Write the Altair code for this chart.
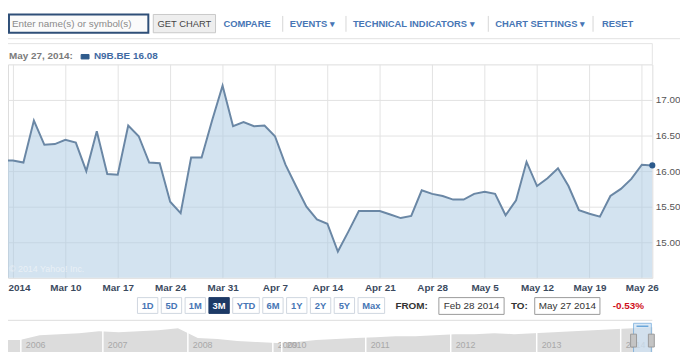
import altair as alt
import pandas as pd

# ---------------- data ----------------
# N9B.BE daily close, Feb 28 2014 .. May 27 2014 (trading-day order)
prices = [16.15, 16.15, 16.12, 16.71, 16.37, 16.38, 16.44, 16.40, 16.00, 16.56,
          15.96, 15.95, 16.64, 16.49, 16.12, 16.11, 15.57, 15.41, 16.19, 16.19,
          16.71, 17.20, 16.63, 16.69, 16.63, 16.64, 16.49, 16.09, 15.79, 15.50,
          15.32, 15.26, 14.87, 15.15, 15.44, 15.44, 15.44, 15.39, 15.34, 15.37,
          15.73, 15.68, 15.65, 15.60, 15.60, 15.68, 15.71, 15.68, 15.38, 15.59,
          16.13, 15.79, 15.90, 16.04, 15.79, 15.45, 15.40, 15.36, 15.65, 15.75,
          15.89, 16.09, 16.08]
x_tick_days = [1, 6, 11, 16, 21, 26, 31, 36, 41, 46, 51, 56, 61]
x_tick_labels = ["2014", "Mar 10", "Mar 17", "Mar 24", "Mar 31", "Apr 7", "Apr 14",
                 "Apr 21", "Apr 28", "May 5", "May 12", "May 19", "May 26"]
y_ticks = [15.0, 15.5, 16.0, 16.5, 17.0]
toolbar_links = ["COMPARE", "EVENTS \u25be", "TECHNICAL INDICATORS \u25be",
                 "CHART SETTINGS \u25be", "RESET"]
range_buttons = ["1D", "5D", "1M", "3M", "YTD", "6M", "1Y", "2Y", "5Y", "Max"]
selected_range = "3M"
legend_date = "May 27, 2014:"
legend_series = "N9B.BE 16.08"
from_date = "Feb 28 2014"
to_date = "May 27 2014"
change_text = "-0.53%"
# overview (navigator) series, relative level, evenly sampled 2005..2014
nav_values = [20, 20, 25, 26, 27, 29, 28, 29, 30, 32, 22, 21, 19, 18, 17, 18, 20,
              21, 22, 23, 24, 24, 25, 26, 26, 27, 26, 27, 28, 29, 30, 31, 32, 33]
nav_years = ["2006", "2007", "2008", "2009", "2010", "2011", "2012", "2013", "2014"]

# ---------------- layout ----------------
FONT = "Liberation Sans"
W, H = 652, 216          # plot area (page x 8..660, page y 63..279)
PAD = {"left": 0, "top": 55, "right": 28, "bottom": 73}


def px(x):
    return x - 8


def py(y):
    return y - 63


one = pd.DataFrame({"k": [0]})


def text(s, x, y, size=10, color="#333333", weight="normal", align="left"):
    return alt.Chart(one).mark_text(
        font=FONT, fontSize=size, color=color, fontWeight=weight,
        align=align, baseline="middle"
    ).encode(x=alt.value(px(x)), y=alt.value(py(y)), text=alt.value(s))


def box(x1, x2, y1, y2, fill="white", stroke="#cccccc", sw=1, opacity=1):
    return alt.Chart(one).mark_rect(
        fill=fill, stroke=stroke, strokeWidth=sw, opacity=opacity
    ).encode(x=alt.value(px(x1)), x2=alt.value(px(x2)),
             y=alt.value(py(y1)), y2=alt.value(py(y2)))


def rule(x1, x2, y1, y2, color="#dddddd", sw=1):
    return alt.Chart(one).mark_rule(color=color, strokeWidth=sw).encode(
        x=alt.value(px(x1)), x2=alt.value(px(x2)),
        y=alt.value(py(y1)), y2=alt.value(py(y2)))


layers = []

# ---- toolbar ----
layers.append(box(9, 150, 12.5, 31, fill="#fbfbfb", stroke="#2f4f78", sw=2))
layers.append(text("Enter name(s) or symbol(s)", 12, 22, size=10, color="#8a8a8a"))
layers.append(box(155, 218, 12.5, 31, fill="#eeeeee", stroke="#c8c8c8"))
layers.append(text("GET CHART", 186.5, 22, size=9.5, color="#444444", align="center"))
link_x = [226, 293, 357, 501, 609]
for s, x in zip(toolbar_links, link_x):
    layers.append(text(s, x, 22, size=9.5, color="#4776b5", weight="bold"))
for x in [286, 350, 494, 600]:
    layers.append(rule(x, x, 14, 30, color="#d6d6d6"))
layers.append(rule(0, 688, 37, 37, color="#e2e2e2"))

# ---- legend band ----
layers.append(rule(8, 660, 42, 42, color="#e4e4e4"))
layers.append(rule(660, 660, 42, 63, color="#e4e4e4"))
layers.append(text(legend_date, 9, 55, size=10, color="#7b7b7b", weight="bold"))
layers.append(box(82, 90, 53, 57.5, fill="#2f5b8c", stroke="#2f5b8c"))
layers.append(text(legend_series, 95, 55, size=10, color="#3f6aa3", weight="bold"))

# ---- main price chart ----
df = pd.DataFrame({"day": list(range(len(prices))), "price": prices})
xs = alt.Scale(domain=[0.53, len(prices) - 1], nice=False, zero=False)
ys = alt.Scale(domain=[14.5, 17.5], nice=False, zero=False)
# first label (year) is drawn flush-left as its own text below
label_arr = "['','" + "','".join(x_tick_labels[1:]) + "']"

area = alt.Chart(df).mark_area(clip=True, color="#a8c8e1", opacity=0.5).encode(
    x=alt.X("day:Q", scale=xs, title=None, axis=alt.Axis(
        values=x_tick_days, labelExpr=label_arr + "[round((datum.value-1)/5)]",
        grid=True, gridColor="#e3e3e3", domain=False, ticks=False,
        labelFont=FONT, labelFontSize=10, labelFontWeight="bold",
        labelColor="#3b4a5e", labelPadding=5, labelFlush=False,
        labelOverlap=False, labelBound=False)),
    y=alt.Y("price:Q", scale=ys, title=None, axis=alt.Axis(
        orient="right", values=y_ticks, format=".2f", grid=True,
        gridColor="#e3e3e3", domain=False, ticks=False, labelFont=FONT,
        labelFontSize=10, labelColor="#555555", labelPadding=3)),
    y2=alt.value(H),
)
line = alt.Chart(df).mark_line(clip=True, color="#6a87a5", strokeWidth=2).encode(
    x=alt.X("day:Q", scale=xs, axis=None),
    y=alt.Y("price:Q", scale=ys, axis=None),
)
last = alt.Chart(df.tail(1)).mark_point(
    filled=True, color="#2c5a8c", size=38, opacity=1, clip=False
).encode(
    x=alt.X("day:Q", scale=xs, axis=None),
    y=alt.Y("price:Q", scale=ys, axis=None),
)
layers += [area, line, last]
layers.append(text(x_tick_labels[0], 8.5, 289.5, size=10, color="#3b4a5e", weight="bold"))
layers.append(text("\u00a9 2014 Yahoo! Inc.", 9, 270, size=9, color="#e9f0f6"))

# ---- range buttons / dates ----
bx = 139.0
for s in range_buttons:
    w = 8 + 6.3 * len(s)
    sel = s == selected_range
    layers.append(box(bx, bx + w, 299, 315, fill="#1d3a66" if sel else "#ffffff",
                      stroke="#1d3a66" if sel else "#cfd6df"))
    layers.append(text(s, bx + w / 2, 307.5, size=9.5,
                       color="#ffffff" if sel else "#4776b5", weight="bold",
                       align="center"))
    bx += w + 3.5
layers.append(text("FROM:", 400, 307.5, size=10, color="#333333", weight="bold"))
layers.append(box(444, 510, 299, 316, stroke="#9a9a9a"))
layers.append(text(from_date, 477, 307.5, size=10, color="#333333", align="center"))
layers.append(text("TO:", 517, 307.5, size=10, color="#333333", weight="bold"))
layers.append(box(541, 607, 299, 316, stroke="#9a9a9a"))
layers.append(text(to_date, 574, 307.5, size=10, color="#333333", align="center"))
layers.append(text(change_text, 620, 307.5, size=10, color="#d0101b", weight="bold"))
layers.append(rule(0, 660, 322, 322, color="#dcdcdc"))

# ---- overview navigator ----
nav_df = pd.DataFrame({"i": list(range(len(nav_values))), "v": nav_values})
navx = alt.Scale(domain=[0, len(nav_values) - 1], range=[px(0), px(660)], nice=False)
navy = alt.Scale(domain=[0, 40], range=[py(362), py(322)], nice=False, zero=False)
nav = alt.Chart(nav_df).mark_area(color="#dcdcdc").encode(
    x=alt.X("i:Q", scale=navx, axis=None),
    y=alt.Y("v:Q", scale=navy, axis=None),
    y2=alt.value(py(362)),
)
layers.append(nav)
sep_x = [21, 104, 190, 276, 285, 370, 456, 543, 628]
for x, yr in zip(sep_x, nav_years):
    layers.append(rule(x, x, 328, 362, color="#ffffff", sw=1.5))
    layers.append(text(yr, x + 5, 347, size=9, color="#a8a8a8"))
# selector handle
layers.append(box(641, 659, 325, 362, fill="#cfe2f3", stroke="#6aa6da", opacity=0.75))
layers.append(rule(644, 656, 328, 328, color="#6aa6da", sw=1.5))
layers.append(box(638, 644, 336, 349, fill="#c4c4c4", stroke="#9a9a9a"))
layers.append(box(656, 662, 336, 349, fill="#c4c4c4", stroke="#9a9a9a"))

chart = alt.layer(*layers).resolve_scale(
    x="independent", y="independent"
).properties(
    width=W, height=H, padding=PAD,
    autosize=alt.AutoSizeParams(type="none"),
    background="white",
).configure_view(stroke="#dcdcdc")

chart.save("out.html", embed_options={"renderer": "svg", "actions": False})
